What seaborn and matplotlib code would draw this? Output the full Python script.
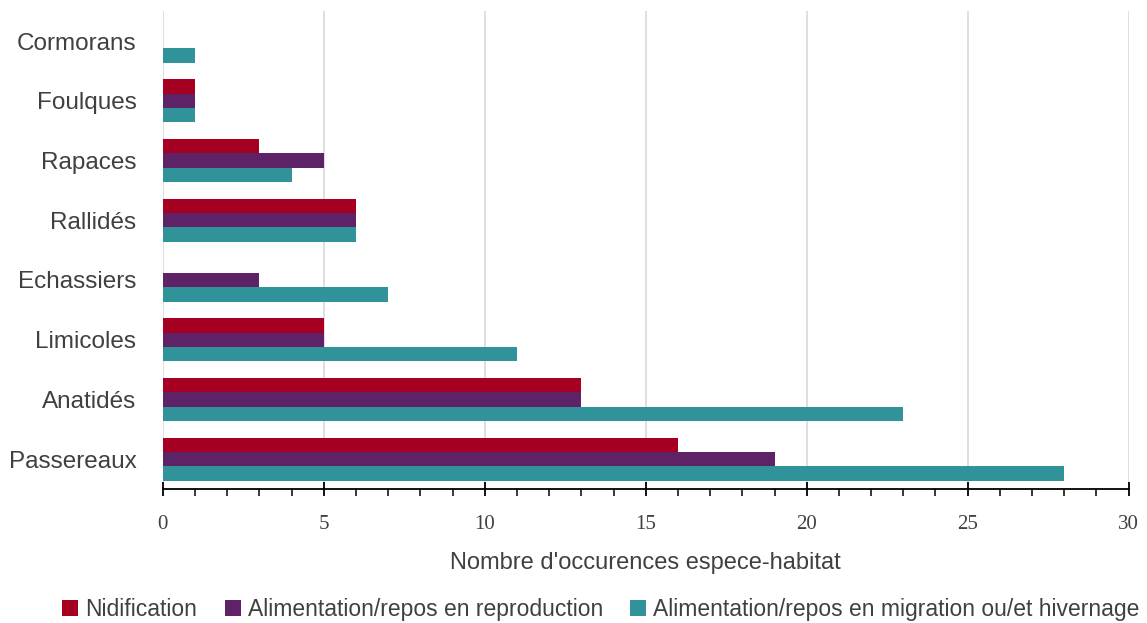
import pandas as pd
import matplotlib.pyplot as plt
import seaborn as sns
from matplotlib.ticker import MultipleLocator

groupes = ['Cormorans', 'Foulques', 'Rapaces', 'Rallidés', 'Echassiers',
           'Limicoles', 'Anatidés', 'Passereaux']
usages = ['Nidification', 'Alimentation/repos en reproduction',
          'Alimentation/repos en migration ou/et hivernage']
nidification = [0, 1, 3, 6, 0, 5, 13, 16]
alim_repro = [0, 1, 5, 6, 3, 5, 13, 19]
alim_migr = [1, 1, 4, 6, 7, 11, 23, 28]
couleurs = ['#A50021', '#5E2366', '#31939A']

df = pd.DataFrame({
    'groupe': groupes * 3,
    'usage': [usages[0]] * 8 + [usages[1]] * 8 + [usages[2]] * 8,
    'n': nidification + alim_repro + alim_migr,
})

sns.set_style('white')
plt.rcParams['font.family'] = ['Liberation Sans', 'DejaVu Sans']

fig = plt.figure(figsize=(11.47, 6.23), dpi=100)
ax = fig.add_axes([0.142, 0.215, 0.842, 0.767])

sns.barplot(data=df, x='n', y='groupe', hue='usage', order=groupes,
            hue_order=usages, palette=couleurs, orient='h', width=0.72,
            saturation=1, linewidth=0, ax=ax, legend=True)

ax.set_xlim(0, 30)
ax.set_ylim(7.5, -0.5)
ax.xaxis.set_major_locator(MultipleLocator(5))
ax.xaxis.set_minor_locator(MultipleLocator(1))
ax.grid(axis='x', which='major', color='#D9D9D9', lw=1.2)
ax.set_axisbelow(True)
for s in ['top', 'right', 'left']:
    ax.spines[s].set_visible(False)
ax.spines['bottom'].set_color('black')
ax.spines['bottom'].set_linewidth(1.3)
ax.tick_params(axis='x', which='major', direction='inout', length=10,
               width=1.3, color='black', bottom=True)
ax.tick_params(axis='x', which='minor', direction='out', length=5,
               width=1.1, color='black', bottom=True)
ax.tick_params(axis='y', length=0, pad=19, labelsize=17.5, labelcolor='#404040')
for lab in ax.get_xticklabels():
    lab.set_family('Liberation Serif')
    lab.set_fontsize(15)
    lab.set_color('#404040')
ax.tick_params(axis='x', pad=14)
ax.set_ylabel('')
ax.set_xlabel("Nombre d'occurences espece-habitat", fontsize=17,
              color='#404040', labelpad=13)

h, l = ax.get_legend_handles_labels()
ax.get_legend().remove()
fig.legend(h, l, loc='lower center', bbox_to_anchor=(0.524, -0.03), ncol=3,
           frameon=False, fontsize=16.5, handlelength=0.7, handleheight=0.7,
           handletextpad=0.3, columnspacing=1.2, labelcolor='#404040')

fig.savefig('out.png', dpi=100)
